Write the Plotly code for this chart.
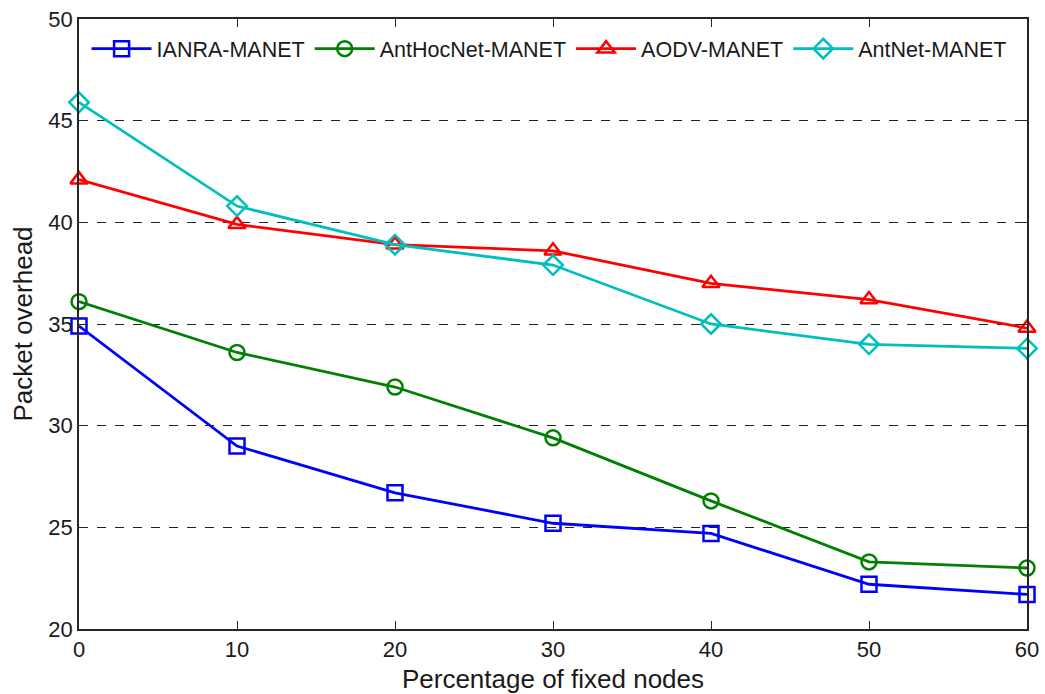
import plotly.graph_objects as go

# Percentage of fixed nodes
fixed_pct = [0, 10, 20, 30, 40, 50, 60]

# Packet overhead per routing protocol
ianra = [34.9, 29.0, 26.7, 25.2, 24.7, 22.2, 21.7]
anthocnet = [36.1, 33.6, 31.9, 29.4, 26.3, 23.3, 23.0]
aodv = [42.1, 39.9, 38.9, 38.6, 37.0, 36.2, 34.8]
antnet = [45.9, 40.8, 38.9, 37.9, 35.0, 34.0, 33.8]

series = [
    ("IANRA-MANET", ianra, "#0000ff", "square-open"),
    ("AntHocNet-MANET", anthocnet, "#008000", "circle-open"),
    ("AODV-MANET", aodv, "#ff0000", "triangle-up-open"),
    ("AntNet-MANET", antnet, "#00bfbf", "diamond-open"),
]

fig = go.Figure()
for name, vals, color, symbol in series:
    fig.add_trace(go.Scatter(
        x=fixed_pct, y=vals, name=name, mode="lines+markers",
        line=dict(color=color, width=2.8),
        marker=dict(symbol=symbol, size=15, color=color,
                    line=dict(color=color, width=2.5)),
        cliponaxis=False,
    ))

font_family = "Liberation Sans, Arial, sans-serif"
axis_color = "#262626"

fig.update_layout(
    width=1045, height=694,
    margin=dict(l=79, r=18, t=19, b=65),
    paper_bgcolor="white", plot_bgcolor="white",
    font=dict(family=font_family, color="#1a1a1a", size=22),
    showlegend=True,
    legend=dict(
        orientation="h", x=0.008, y=0.985, xanchor="left", yanchor="top",
        bgcolor="rgba(255,255,255,0)", borderwidth=0,
        font=dict(size=21.5, family=font_family),
        itemwidth=60, tracegroupgap=0,
    ),
)

fig.update_xaxes(
    range=[0, 60], tickvals=fixed_pct, ticks="inside", ticklen=8,
    tickcolor=axis_color, showline=True, linecolor=axis_color, linewidth=1.5,
    mirror="allticks", showgrid=False, zeroline=False, automargin=False,
    tickfont=dict(size=22),
    title=dict(text="Percentage of fixed nodes", font=dict(size=26), standoff=10),
)
fig.update_yaxes(
    range=[20, 50], tickvals=[20, 25, 30, 35, 40, 45, 50], ticks="inside",
    ticklen=8, tickcolor=axis_color, showline=True, linecolor=axis_color,
    linewidth=1.5, mirror="allticks", showgrid=True, gridcolor="#222222",
    griddash="dash", gridwidth=1.2, zeroline=False, automargin=False,
    tickfont=dict(size=22),
    title=dict(text="Packet overhead", font=dict(size=26), standoff=8),
)

fig.write_html("out.html")
